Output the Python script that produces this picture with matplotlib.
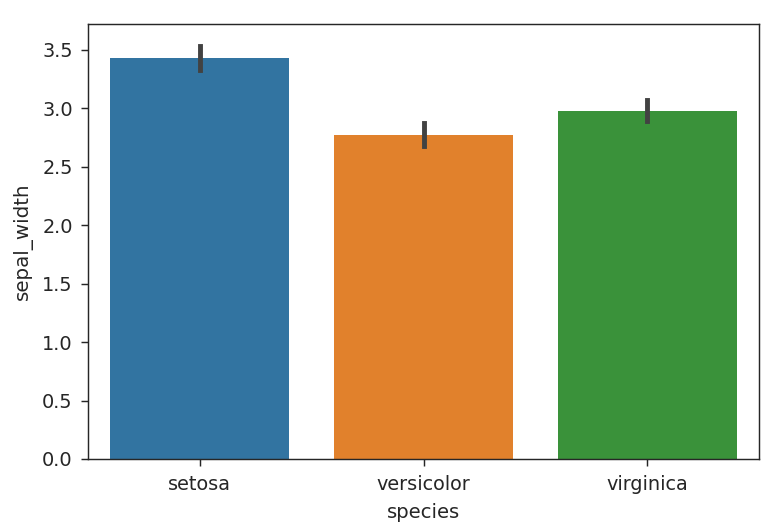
import matplotlib
matplotlib.use("Agg")
import matplotlib.pyplot as plt

species = ["setosa", "versicolor", "virginica"]
mean_width = [3.428, 2.770, 2.974]
ci_low = [3.33, 2.68, 2.89]
ci_high = [3.53, 2.87, 3.07]
colors = ["#3274a1", "#e1812c", "#3a923a"]

ink = "#262626"
plt.rcParams["text.color"] = ink
plt.rcParams["axes.labelcolor"] = ink
plt.rcParams["xtick.color"] = ink
plt.rcParams["ytick.color"] = ink
plt.rcParams["axes.edgecolor"] = ink

fig = plt.figure(figsize=(6, 532 / 130), dpi=130)
ax = fig.add_axes([88 / 780, 73 / 532, 671 / 780, 435 / 532])

x = range(len(species))
ax.bar(x, mean_width, width=0.8, color=colors)
for i in x:
    ax.plot([i, i], [ci_low[i], ci_high[i]], color="#424242",
            linewidth=2.7, solid_capstyle="projecting")

ax.set_xticks(list(x))
ax.set_xticklabels(species)
ax.set_xlim(-0.5, 2.5)
ax.set_ylim(0, 3.72)
ax.tick_params(labelsize=10.7, length=4, pad=4.5)
ax.tick_params(axis="x", pad=5)
ax.set_xlabel("species", fontsize=10.9, labelpad=5)
ax.set_ylabel("sepal_width", fontsize=11, labelpad=5)

fig.savefig("out.png", dpi=130)
